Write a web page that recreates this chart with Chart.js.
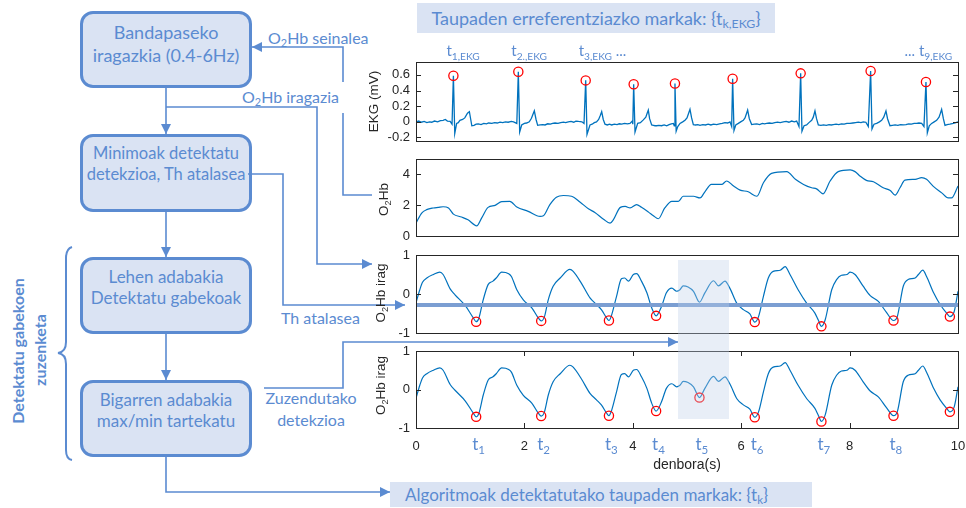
<!DOCTYPE html>
<html>
<head>
<meta charset="utf-8">
<title>Taupaden detekzioa O2Hb seinalean</title>
<script src="https://cdn.jsdelivr.net/npm/chart.js@4.4.1/dist/chart.umd.min.js"></script>
<style>
  html, body { margin: 0; padding: 0; background: #ffffff; }
  #fig { position: relative; width: 966px; height: 508px; overflow: hidden;
         font-family: Lato, "Open Sans", sans-serif; color: #5b8bd1; }
  .box { position: absolute; box-sizing: border-box; border: 3px solid #5b8bd1;
         border-radius: 13px; background: #dae3f3; }
  .band { position: absolute; background: #dae3f3; }
  .t { position: absolute; transform: translate(-50%, -50%); white-space: nowrap; line-height: 1; }
  .l { position: absolute; transform: translateY(-50%); white-space: nowrap; line-height: 1; }
  sub { font-size: 0.68em; vertical-align: -0.28em; line-height: 0; }
  .plot { position: absolute; left: 360px; width: 606px; }
  #shade { position: absolute; background: rgba(190, 208, 234, 0.36); pointer-events: none; }
  svg { position: absolute; left: 0; top: 0; }
</style>
</head>
<body>
<div id="fig">

  <!-- processing chain -->
  <div class="box" style="left:80px;top:11px;width:172px;height:77px"></div>
  <div class="t" style="left:166px;top:32px;font-size:18px">Bandapaseko</div>
  <div class="t" style="left:166px;top:55px;font-size:18px">iragazkia (0.4-6Hz)</div>

  <div class="box" style="left:80px;top:134px;width:172px;height:78px"></div>
  <div class="t" style="left:166px;top:153px;font-size:16.5px">Minimoak detektatu</div>
  <div class="t" style="left:166px;top:174px;font-size:16.5px">detekzioa, Th atalasea</div>

  <div class="box" style="left:80px;top:257px;width:172px;height:77px"></div>
  <div class="t" style="left:166px;top:276px;font-size:17px">Lehen adabakia</div>
  <div class="t" style="left:166px;top:297px;font-size:17px">Detektatu gabekoak</div>

  <div class="box" style="left:80px;top:380px;width:172px;height:77px"></div>
  <div class="t" style="left:166px;top:399px;font-size:17px">Bigarren adabakia</div>
  <div class="t" style="left:166px;top:420px;font-size:17px">max/min tartekatu</div>

  <div class="t" style="left:18px;top:351px;font-size:16px;font-weight:700;transform:translate(-50%,-50%) rotate(-90deg)">Detektatu gabekoen</div>
  <div class="t" style="left:40px;top:350px;font-size:16px;font-weight:700;transform:translate(-50%,-50%) rotate(-90deg)">zuzenketa</div>

  <svg width="966" height="508">
    <defs>
      <marker id="head" viewBox="0 0 10 10" refX="10" refY="5" markerWidth="11" markerHeight="10"
              markerUnits="userSpaceOnUse" orient="auto">
        <path d="M0,0 L10,5 L0,10 z" fill="#5b8bd1"/>
      </marker>
    </defs>
    <g fill="none" stroke="#5b8bd1" stroke-width="1.6">
      <path d="M166,88 V134" marker-end="url(#head)"/>
      <path d="M166,212 V257" marker-end="url(#head)"/>
      <path d="M166,334 V380" marker-end="url(#head)"/>
      <path d="M166,457 V492 H390" marker-end="url(#head)"/>
      <path d="M372,195 H343 V113"/>
      <path d="M343,82 V47 H252" marker-end="url(#head)"/>
      <path d="M166,107 H317 V264 H372" marker-end="url(#head)"/>
      <path d="M248,174 H283 V305 H405" marker-end="url(#head)"/>
      <path d="M264,388 H343 V342 H678" marker-end="url(#head)"/>
      <path d="M72,247 Q66,249 66,258 L66,342 Q66,352 58,353 Q66,354 66,364 L66,450 Q66,459 72,460" stroke-width="2"/>
    </g>
  </svg>

  <div class="l" style="left:268px;top:38px;font-size:16px">O<sub>2</sub>Hb seinalea</div>
  <div class="l" style="left:242px;top:97px;font-size:16px">O<sub>2</sub>Hb iragazia</div>
  <div class="l" style="left:281px;top:318px;font-size:16px">Th atalasea</div>
  <div class="t" style="left:311px;top:398px;font-size:16px">Zuzendutako</div>
  <div class="t" style="left:311px;top:420px;font-size:16px">detekzioa</div>

  <div class="band" style="left:417px;top:3px;width:358px;height:30px"></div>
  <div class="t" style="left:596px;top:18px;font-size:18px">Taupaden erreferentziazko markak: {t<sub>k,EKG</sub>}</div>

  <div class="band" style="left:390px;top:482px;width:422px;height:25px"></div>
  <div class="l" style="left:405px;top:494px;font-size:17px">Algoritmoak detektatutako taupaden markak: {t<sub>k</sub>}</div>

  <!-- signal panels -->
  <div class="plot" id="p1" style="top:40px;height:109px"><canvas id="ekg"></canvas></div>
  <div class="plot" id="p2" style="top:150px;height:94px"><canvas id="raw"></canvas></div>
  <div class="plot" id="p3" style="top:246px;height:95px"><canvas id="filt"></canvas></div>
  <div class="plot" id="p4" style="top:342px;height:166px"><canvas id="corr"></canvas></div>
  <div id="shade"></div>
</div>

<script>
// ---- axis ticks ----
const timeTicks = [0, 2, 4, 6, 8, 10];
const ekgTicks = [-0.2, 0, 0.2, 0.4, 0.6];
const rawTicks = [0, 2, 4];
const filtTicks = [-1, 0, 1];

// ---- EKG trace [s, mV] ----
const ekgTrace = [
  [0.00, 0.00], [0.05, 0.01], [0.10, -0.005], [0.15, 0.005], [0.20, -0.01], [0.25, 0.0], [0.29, -0.005],
  [0.34, 0.01], [0.40, 0.0], [0.45, 0.015], [0.50, 0.02], [0.54, 0.03], [0.58, 0.01], [0.63, 0.005],
  [0.665, -0.03], [0.69, 0.59], [0.715, -0.15], [0.75, -0.02], [0.78, -0.01], [0.81, 0.02], [0.86, 0.03],
  [0.90, 0.05], [0.95, 0.11], [0.985, 0.13], [1.01, 0.03], [1.03, -0.05], [1.07, -0.045], [1.11, -0.03],
  [1.15, -0.025], [1.20, -0.035], [1.25, -0.02], [1.30, -0.025], [1.34, -0.015], [1.40, -0.02], [1.45, -0.01],
  [1.50, -0.015], [1.55, -0.005], [1.60, -0.01], [1.65, 0.0], [1.70, -0.005], [1.76, 0.005], [1.80, 0.0],
  [1.86, -0.02], [1.888, 0.64], [1.913, -0.13], [1.95, -0.04], [2.00, -0.02], [2.04, -0.015], [2.09, 0.0],
  [2.13, 0.045], [2.16, 0.10], [2.183, 0.14], [2.215, 0.03], [2.245, -0.045], [2.29, -0.04], [2.34, -0.035],
  [2.38, -0.04], [2.43, -0.025], [2.48, -0.03], [2.52, -0.02], [2.565, -0.015], [2.62, -0.02], [2.67, -0.01],
  [2.72, -0.005], [2.76, -0.01], [2.81, 0.0], [2.86, 0.005], [2.91, -0.005], [2.95, 0.01], [3.00, 0.005],
  [3.06, 0.0], [3.10, -0.02], [3.131, 0.53], [3.155, -0.16], [3.21, -0.04], [3.25, -0.03], [3.29, -0.01],
  [3.33, 0.0], [3.37, 0.03], [3.40, 0.08], [3.426, 0.13], [3.455, 0.03], [3.487, -0.03], [3.53, -0.04],
  [3.57, -0.03], [3.61, -0.04], [3.66, -0.03], [3.71, -0.035], [3.75, -0.025], [3.795, -0.03], [3.85, -0.02],
  [3.90, -0.025], [3.948, -0.02], [3.99, 0.01], [4.00, -0.03], [4.016, 0.48], [4.041, -0.13], [4.09, -0.02],
  [4.14, -0.01], [4.194, 0.025], [4.24, 0.06], [4.265, 0.11], [4.286, 0.15], [4.31, 0.04], [4.348, -0.04],
  [4.38, -0.045], [4.41, -0.05], [4.44, -0.05], [4.48, -0.045], [4.53, -0.05], [4.58, -0.04], [4.625, -0.05],
  [4.67, -0.035], [4.71, -0.025], [4.748, -0.02], [4.765, -0.05], [4.778, 0.49], [4.80, -0.12], [4.83, -0.06],
  [4.871, -0.02], [4.92, 0.0], [4.963, 0.02], [5.00, 0.05], [5.03, 0.11], [5.055, 0.16], [5.085, 0.05],
  [5.117, -0.035], [5.16, -0.04], [5.20, -0.035], [5.24, -0.045], [5.29, -0.035], [5.34, -0.04], [5.39, -0.03],
  [5.44, -0.04], [5.49, -0.03], [5.547, -0.035], [5.60, -0.025], [5.65, -0.02], [5.70, -0.01], [5.75, -0.015],
  [5.793, 0.0], [5.824, -0.06], [5.842, 0.55], [5.867, -0.11], [5.90, -0.04], [5.947, -0.02], [5.99, 0.0],
  [6.039, 0.02], [6.07, 0.05], [6.095, 0.10], [6.119, 0.15], [6.15, 0.04], [6.193, -0.035], [6.24, -0.03],
  [6.29, -0.025], [6.34, -0.035], [6.39, -0.02], [6.43, -0.025], [6.47, -0.02], [6.52, -0.015], [6.57, -0.02],
  [6.62, -0.01], [6.67, -0.005], [6.72, -0.01], [6.777, 0.0], [6.83, 0.005], [6.88, -0.005], [6.93, 0.01],
  [6.98, 0.0], [7.023, 0.01], [7.066, -0.06], [7.097, 0.62], [7.121, -0.12], [7.16, -0.05], [7.207, -0.04],
  [7.25, -0.01], [7.30, 0.02], [7.33, 0.06], [7.361, 0.14], [7.39, 0.04], [7.423, -0.04], [7.47, -0.045],
  [7.52, -0.04], [7.57, -0.045], [7.62, -0.035], [7.66, -0.04], [7.699, -0.035], [7.75, -0.03], [7.80, -0.035],
  [7.85, -0.025], [7.90, -0.03], [7.95, -0.02], [8.007, -0.02], [8.06, -0.015], [8.11, -0.01], [8.16, -0.005],
  [8.21, -0.01], [8.253, 0.0], [8.30, -0.005], [8.345, -0.06], [8.388, 0.65], [8.413, -0.09], [8.45, -0.03],
  [8.499, -0.02], [8.55, 0.0], [8.591, 0.02], [8.63, 0.06], [8.671, 0.14], [8.70, 0.04], [8.745, -0.05],
  [8.79, -0.045], [8.84, -0.04], [8.89, -0.045], [8.94, -0.035], [8.991, -0.04], [9.04, -0.035], [9.09, -0.025],
  [9.14, -0.03], [9.19, -0.02], [9.237, -0.02], [9.28, -0.015], [9.33, -0.02], [9.372, -0.06], [9.409, 0.51],
  [9.434, -0.14], [9.47, -0.05], [9.514, -0.02], [9.56, 0.0], [9.606, 0.02], [9.65, 0.06], [9.675, 0.11],
  [9.698, 0.16], [9.73, 0.04], [9.76, -0.045], [9.80, -0.035], [9.85, -0.03], [9.914, -0.02], [9.96, -0.01],
  [10.0, 0.0]
];

// reference beat marks (R peaks)
const ekgPeakTimes = [0.69, 1.888, 3.131, 4.016, 4.778, 5.842, 7.097, 8.388, 9.409];
const ekgPeakMv = [0.59, 0.64, 0.53, 0.48, 0.49, 0.55, 0.62, 0.65, 0.51];
const ekgNoteIdx = [0, 1, 2, 8];
const ekgNoteSub = ['1,EKG', '2.,EKG', '3,EKG', '9,EKG'];

// ---- raw O2Hb trace ----
const rawTrace = [
  [0.00, 0.83], [0.105, 1.49], [0.197, 1.71], [0.32, 1.82], [0.41, 1.86], [0.50, 1.90], [0.60, 1.82],
  [0.69, 1.42], [0.84, 1.23], [0.96, 1.05], [1.12, 0.66], [1.21, 1.16], [1.33, 1.86], [1.46, 1.99],
  [1.58, 2.23], [1.73, 2.25], [1.86, 1.88], [2.07, 1.60], [2.29, 1.27], [2.35, 1.31], [2.47, 2.04],
  [2.59, 2.52], [2.72, 2.63], [2.87, 2.58], [3.03, 2.19], [3.18, 1.77], [3.30, 1.53], [3.46, 1.09],
  [3.58, 0.83], [3.64, 1.05], [3.77, 1.86], [3.86, 1.92], [3.95, 1.82], [4.07, 2.04], [4.16, 1.86],
  [4.29, 1.55], [4.38, 1.32], [4.47, 1.12], [4.59, 1.82], [4.72, 2.25], [4.84, 2.25], [4.93, 2.58],
  [5.12, 2.58], [5.24, 2.47], [5.33, 2.87], [5.45, 3.35], [5.64, 3.35], [5.73, 3.57], [5.86, 3.24],
  [5.98, 2.98], [6.13, 2.87], [6.29, 2.58], [6.41, 3.46], [6.56, 4.07], [6.84, 4.18], [7.00, 3.68],
  [7.15, 3.35], [7.30, 3.13], [7.39, 3.06], [7.51, 2.74], [7.64, 3.57], [7.79, 4.18], [8.01, 4.29],
  [8.10, 4.18], [8.19, 3.90], [8.31, 3.61], [8.44, 3.52], [8.62, 3.13], [8.75, 2.95], [8.84, 2.65],
  [8.93, 3.13], [9.02, 3.63], [9.21, 3.68], [9.33, 3.79], [9.42, 3.68], [9.54, 3.24], [9.70, 2.80],
  [9.82, 2.47], [9.88, 2.47], [10.0, 3.24]
];

// ---- band-pass filtered O2Hb ----
const filtTrace = [
  [0.00, -0.23], [0.07, 0.11], [0.12, 0.30], [0.20, 0.41], [0.32, 0.50], [0.44, 0.56], [0.50, 0.50],
  [0.63, 0.13], [0.72, -0.02], [0.91, -0.30], [1.06, -0.62], [1.11, -0.71], [1.16, -0.62], [1.24, -0.15],
  [1.33, 0.24], [1.42, 0.33], [1.48, 0.41], [1.58, 0.56], [1.71, 0.52], [1.76, 0.45], [1.86, 0.11],
  [1.98, -0.15], [2.14, -0.36], [2.26, -0.62], [2.31, -0.69], [2.37, -0.58], [2.44, -0.15], [2.53, 0.20],
  [2.66, 0.41], [2.84, 0.63], [2.90, 0.58], [3.05, 0.28], [3.21, -0.10], [3.33, -0.27], [3.42, -0.40],
  [3.53, -0.64], [3.56, -0.68], [3.60, -0.58], [3.70, -0.06], [3.79, 0.39], [3.85, 0.41], [3.92, 0.33],
  [4.01, 0.50], [4.07, 0.52], [4.16, 0.33], [4.26, 0.03], [4.35, -0.36], [4.43, -0.56], [4.53, -0.32],
  [4.62, 0.03], [4.72, 0.15], [4.81, 0.07], [4.87, 0.11], [4.93, 0.21], [5.02, 0.18], [5.12, 0.07],
  [5.23, -0.21], [5.33, 0.03], [5.49, 0.34], [5.58, 0.21], [5.70, 0.33], [5.79, 0.15], [5.92, -0.24],
  [6.04, -0.40], [6.16, -0.51], [6.25, -0.72], [6.32, -0.58], [6.41, -0.06], [6.50, 0.41], [6.59, 0.58],
  [6.72, 0.61], [6.81, 0.70], [6.90, 0.50], [7.05, 0.11], [7.21, -0.24], [7.36, -0.49], [7.42, -0.66],
  [7.48, -0.83], [7.55, -0.66], [7.67, 0.11], [7.76, 0.37], [7.85, 0.48], [7.95, 0.50], [8.01, 0.56],
  [8.10, 0.50], [8.25, 0.20], [8.38, -0.04], [8.53, -0.19], [8.68, -0.47], [8.81, -0.68], [8.88, -0.58],
  [8.99, 0.20], [9.08, 0.37], [9.21, 0.41], [9.27, 0.50], [9.35, 0.61], [9.42, 0.45], [9.55, 0.03],
  [9.67, -0.27], [9.79, -0.49], [9.85, -0.58], [9.93, -0.45], [10.0, 0.07]
];

// threshold level and minima found below it
const thLevel = -0.28;
const detTimes = [1.11, 2.31, 3.56, 4.43, 6.25, 7.48, 8.81, 9.85];
const detValues = [-0.71, -0.69, -0.68, -0.56, -0.72, -0.83, -0.68, -0.58];

// detections after the two correction patches
const corrTimes = [1.11, 2.31, 3.56, 4.43, 5.23, 6.25, 7.48, 8.81, 9.85];
const corrValues = [-0.71, -0.69, -0.68, -0.56, -0.21, -0.72, -0.83, -0.68, -0.58];
const corrNames = ['1', '2', '3', '4', '5', '6', '7', '8'];

// interval searched by the second patch
const reviewWindow = [4.83, 5.77];
const reviewLevels = [0.87, -0.76];

// ---- drawing ----
const axisFamily = '"Liberation Sans", Arial, Helvetica, sans-serif';
const noteFamily = 'Lato, "Open Sans", sans-serif';
const inkColor = '#262626';
const traceColor = '#0072bd';
const markColor = '#ff0000';
const noteColor = '#5b8bd1';

const xy = pairs => pairs.map(([x, y]) => ({ x, y }));
const zipXY = (xs, ys) => xs.map((x, i) => ({ x, y: ys[i] }));

function drawRich(ctx, parts, x, y, size, family, color, align) {
  ctx.save();
  ctx.fillStyle = color;
  ctx.textBaseline = 'alphabetic';
  ctx.textAlign = 'left';
  const fontFor = sub => (sub ? size * 0.68 : size) + 'px ' + family;
  let w = 0;
  for (const [s, sub] of parts) { ctx.font = fontFor(sub); w += ctx.measureText(s).width; }
  let cx = align === 'center' ? x - w / 2 : align === 'right' ? x - w : x;
  for (const [s, sub] of parts) {
    ctx.font = fontFor(sub);
    ctx.fillText(s, cx, y + (sub ? size * 0.24 : 0));
    cx += ctx.measureText(s).width;
  }
  ctx.restore();
}

// box with inward ticks drawn over the traces
const axesFrame = {
  id: 'axesFrame',
  afterDatasetsDraw(chart, args, opts) {
    const { ctx, chartArea: a, scales } = chart;
    ctx.save();
    ctx.strokeStyle = inkColor;
    ctx.lineWidth = 1;
    ctx.beginPath();
    scales.y.ticks.forEach(t => {
      const y = Math.round(scales.y.getPixelForValue(t.value)) + 0.5;
      ctx.moveTo(a.left, y); ctx.lineTo(a.left + 5, y);
      ctx.moveTo(a.right, y); ctx.lineTo(a.right - 5, y);
    });
    if (opts.xTicks) {
      scales.x.ticks.forEach(t => {
        const x = Math.round(scales.x.getPixelForValue(t.value)) + 0.5;
        ctx.moveTo(x, a.bottom); ctx.lineTo(x, a.bottom - 5);
        ctx.moveTo(x, a.top); ctx.lineTo(x, a.top + 5);
      });
    }
    ctx.stroke();
    ctx.strokeRect(Math.round(a.left) + 0.5, Math.round(a.top) + 0.5,
                   Math.round(a.right - a.left), Math.round(a.bottom - a.top));
    ctx.restore();
  }
};

// rotated y title with subscripts
const yTitle = {
  id: 'yTitle',
  afterDraw(chart, args, opts) {
    if (!opts.parts) return;
    const { ctx, chartArea: a } = chart;
    ctx.save();
    ctx.translate(opts.x, (a.top + a.bottom) / 2 + (opts.dy || 0));
    ctx.rotate(-Math.PI / 2);
    drawRich(ctx, opts.parts, 0, opts.size * 0.36, opts.size, axisFamily, inkColor, 'center');
    ctx.restore();
  }
};
Chart.register(axesFrame, yTitle);

function options(o) {
  return {
    responsive: true,
    maintainAspectRatio: false,
    animation: false,
    devicePixelRatio: 1,
    events: [],
    layout: { padding: o.padding, autoPadding: false },
    plugins: {
      legend: { display: false },
      tooltip: { enabled: false },
      axesFrame: { xTicks: !!o.showX },
      yTitle: o.title
    },
    scales: {
      x: {
        type: 'linear', min: 0, max: 10, display: !!o.showX,
        afterBuildTicks: s => { s.ticks = timeTicks.map(v => ({ value: v })); },
        afterFit: s => {
          if (o.showX) s.height = 48;
          s.paddingLeft = 0; s.paddingRight = 0;
        },
        grid: { display: false, drawTicks: false },
        border: { display: false },
        ticks: { font: { family: axisFamily, size: 13 }, color: inkColor, padding: 11,
                 maxRotation: 0, autoSkip: false, callback: v => String(v) },
        title: { display: !!o.showX, text: 'denbora(s)', color: inkColor,
                 font: { family: axisFamily, size: 14 }, padding: { top: 0, bottom: 2 } }
      },
      y: {
        type: 'linear', min: o.yMin, max: o.yMax,
        afterBuildTicks: s => { s.ticks = o.yTicks.map(v => ({ value: v })); },
        afterFit: s => { s.width = 56; s.paddingTop = 0; s.paddingBottom = 0; },
        grid: { display: false, drawTicks: false },
        border: { display: false },
        ticks: { font: { family: axisFamily, size: 13 }, color: inkColor, padding: 6,
                 callback: v => String(v) }
      }
    }
  };
}

const ringSet = data => ({
  data, showLine: false, pointStyle: 'circle', pointRadius: 4.6,
  pointBorderColor: markColor, pointBackgroundColor: 'rgba(0,0,0,0)', pointBorderWidth: 1.3
});
const traceSet = (data, smooth, width) => ({
  data, showLine: true, borderColor: traceColor, borderWidth: width, pointRadius: 0,
  tension: 0, cubicInterpolationMode: smooth ? 'monotone' : 'default'
});

// EKG with reference marks
const ekgChart = new Chart(document.getElementById('ekg'), {
  type: 'scatter',
  data: { datasets: [ ringSet(zipXY(ekgPeakTimes, ekgPeakMv)), traceSet(xy(ekgTrace), false, 1.3) ] },
  options: options({
    padding: { top: 22, bottom: 8, right: 8, left: 0 },
    yMin: -0.245, yMax: 0.765, yTicks: ekgTicks,
    title: { parts: [['EKG (mV)', false]], x: 13, size: 13.5 }
  }),
  plugins: [{
    id: 'ekgNotes',
    afterDraw(chart) {
      const { ctx, scales } = chart;
      ekgNoteIdx.forEach((idx, n) => {
        const px = scales.x.getPixelForValue(ekgPeakTimes[idx]) - 7;
        const parts = [['t', false], [ekgNoteSub[n], true]];
        if (idx === 2) parts.push([' ...', false]);
        if (idx === 8) drawRich(ctx, [['... ', false]], px, 16, 15, noteFamily, noteColor, 'right');
        drawRich(ctx, parts, px, 16, 15, noteFamily, noteColor, 'left');
      });
    }
  }]
});

// raw O2Hb
const rawChart = new Chart(document.getElementById('raw'), {
  type: 'scatter',
  data: { datasets: [ traceSet(xy(rawTrace), true, 1.2) ] },
  options: options({
    padding: { top: 9, bottom: 8, right: 8, left: 0 },
    yMin: 0, yMax: 5, yTicks: rawTicks,
    title: { parts: [['O', false], ['2', true], ['Hb', false]], x: 23, size: 13.5, dy: 2 }
  })
});

// filtered O2Hb, threshold and first detections
const filtChart = new Chart(document.getElementById('filt'), {
  type: 'scatter',
  data: { datasets: [
    ringSet(zipXY(detTimes, detValues)),
    { data: [{ x: 0, y: thLevel }, { x: 10, y: thLevel }], showLine: true,
      borderColor: '#7b9ed2', borderWidth: 4, pointRadius: 0 },
    traceSet(xy(filtTrace), true, 1.2)
  ] },
  options: options({
    padding: { top: 9, bottom: 8, right: 8, left: 0 },
    yMin: -1, yMax: 1, yTicks: filtTicks,
    title: { parts: [['O', false], ['2', true], ['Hb irag', false]], x: 20, size: 13.5, dy: -1 }
  })
});

// corrected detections
const corrChart = new Chart(document.getElementById('corr'), {
  type: 'scatter',
  data: { datasets: [ ringSet(zipXY(corrTimes, corrValues)), traceSet(xy(filtTrace), true, 1.2) ] },
  options: options({
    showX: true,
    padding: { top: 9, bottom: 32, right: 8, left: 0 },
    yMin: -1, yMax: 1, yTicks: filtTicks,
    title: { parts: [['O', false], ['2', true], ['Hb irag', false]], x: 20, size: 13.5, dy: -4 }
  }),
  plugins: [{
    id: 'beatNames',
    afterDraw(chart) {
      const { ctx, scales } = chart;
      corrNames.forEach((name, i) => {
        const px = scales.x.getPixelForValue(corrTimes[i]) - 4;
        drawRich(ctx, [['t', false], [name, true]], px, 108, 17, noteFamily, noteColor, 'left');
      });
    }
  }]
});

// highlight of the interval revisited by the second patch
(function placeShade() {
  const p3 = document.getElementById('p3'), p4 = document.getElementById('p4');
  const sx = filtChart.scales.x;
  const left = p3.offsetLeft + sx.getPixelForValue(reviewWindow[0]);
  const right = p3.offsetLeft + sx.getPixelForValue(reviewWindow[1]);
  const top = p3.offsetTop + filtChart.scales.y.getPixelForValue(reviewLevels[0]);
  const bottom = p4.offsetTop + corrChart.scales.y.getPixelForValue(reviewLevels[1]);
  const s = document.getElementById('shade').style;
  s.left = left + 'px'; s.width = (right - left) + 'px';
  s.top = top + 'px'; s.height = (bottom - top) + 'px';
})();
</script>
</body>
</html>
